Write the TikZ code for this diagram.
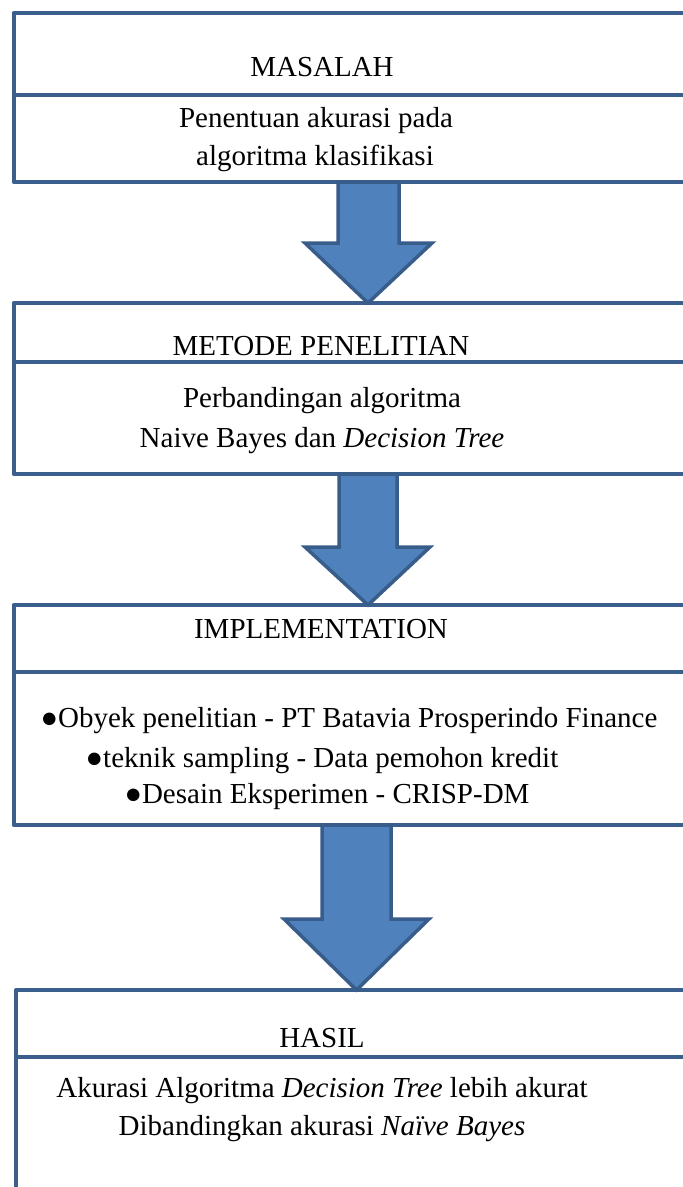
\documentclass[tikz,border=0pt]{standalone}
\usepackage{fontspec}
\setmainfont{Liberation Serif}
\usetikzlibrary{calc}
\begin{document}
\begin{tikzpicture}[x=1pt,y=-1pt,
  frame/.style={draw=boxblue,line width=4pt,line join=round},
  blockarrow/.style={draw=arrowline,fill=arrowfill,line width=3.5pt,line join=miter},
  txt/.style={anchor=base,inner sep=0pt,font=\fontsize{29}{40}\selectfont}]
\definecolor{boxblue}{HTML}{3B5F8C}
\definecolor{arrowfill}{HTML}{4F81BD}
\definecolor{arrowline}{HTML}{385D8A}
\clip (0,0) rectangle (683,1187);
\fill[white] (0,0) rectangle (683,1187);
% boxes
\draw[frame] (13.5,13) rectangle (720,182);
\draw[frame] (13.5,95) -- (720,95);
\draw[frame] (13.5,303) rectangle (720,474);
\draw[frame] (13.5,362) -- (720,362);
\draw[frame] (13.5,605) rectangle (720,825);
\draw[frame] (13.5,672) -- (720,672);
\draw[frame] (16,990) rectangle (720,1260);
\draw[frame] (16,1057) -- (720,1057);
% named anchors of the boxes
\coordinate (b1bot) at (368,182);
\coordinate (b2top) at (368,303);
\coordinate (b2bot) at (368,474);
\coordinate (b3top) at (368,605);
\coordinate (b3bot) at (356.5,825);
\coordinate (b4top) at (356.5,990);
% block arrows
\draw[blockarrow] ($(b1bot)+(-30,0)$) -- ($(b1bot)+(31,0)$) -- ($(b1bot)+(31,61)$) -- ($(b1bot)+(64,61)$) -- (b2top) -- ($(b1bot)+(-63,61)$) -- ($(b1bot)+(-30,61)$) -- cycle;
\draw[blockarrow] ($(b2bot)+(-29,0)$) -- ($(b2bot)+(29,0)$) -- ($(b2bot)+(29,73)$) -- ($(b2bot)+(62,73)$) -- (b3top) -- ($(b2bot)+(-63,73)$) -- ($(b2bot)+(-29,73)$) -- cycle;
\draw[blockarrow] ($(b3bot)+(-34.5,0)$) -- ($(b3bot)+(34.5,0)$) -- ($(b3bot)+(34.5,94)$) -- ($(b3bot)+(72.5,94)$) -- (b4top) -- ($(b3bot)+(-72.5,94)$) -- ($(b3bot)+(-34.5,94)$) -- cycle;
% texts
\node[txt] (t1) at (322,76) {MASALAH};
\node[txt] (t1a) at (316,127) {Penentuan akurasi pada};
\node[txt] (t1b) at (315,165) {algoritma klasifikasi};
\node[txt] (t2) at (321,355) {METODE PENELITIAN};
\node[txt] (t2a) at (322,407) {Perbandingan algoritma};
\node[txt] (t2b) at (322,447) {Naive Bayes dan \textit{Decision Tree}};
\node[txt] (t3) at (321,638) {IMPLEMENTATION};
\node[txt] (t3a) at (349,727) {●Obyek penelitian - PT Batavia Prosperindo Finance};
\node[txt] (t3b) at (322,767) {●teknik sampling - Data pemohon kredit};
\node[txt] (t3c) at (327,803) {●Desain Eksperimen - CRISP-DM};
\node[txt] (t4) at (322,1047) {HASIL};
\node[txt] (t4a) at (322,1097) {Akurasi Algoritma \textit{Decision Tree} lebih akurat};
\node[txt] (t4b) at (322,1135) {Dibandingkan akurasi \textit{Naïve Bayes}};
\end{tikzpicture}
\end{document}
